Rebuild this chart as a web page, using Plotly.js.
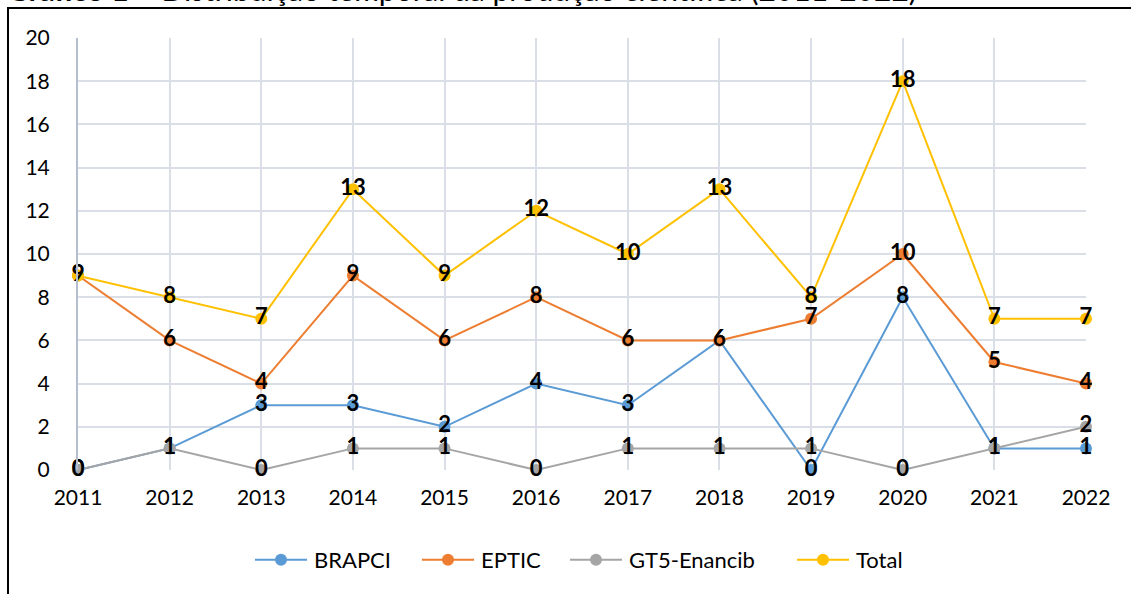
<!DOCTYPE html>
<html>
<head>
<meta charset="utf-8">
<script src="https://cdn.plot.ly/plotly-3.0.1.min.js"></script>
<style>
html,body{margin:0;padding:0;background:#fff;overflow:hidden;}
#chart{width:1131px;height:594px;}
#frame{position:absolute;left:7px;top:7px;width:1200px;height:700px;border:2px solid #000;pointer-events:none;}
</style>
</head>
<body>
<div id="chart"></div>
<div id="frame"></div>
<script>
const years = [2011,2012,2013,2014,2015,2016,2017,2018,2019,2020,2021,2022];
const brapci = [0,1,3,3,2,4,3,6,0,8,1,1];
const eptic = [9,6,4,9,6,8,6,6,7,10,5,4];
const gt5 = [0,1,0,1,1,0,1,1,1,0,1,2];
const total = [9,8,7,13,9,12,10,13,8,18,7,7];
const seriesNames = ['BRAPCI','EPTIC','GT5-Enancib','Total'];
const colors = ['#5B9BD5','#ED7D31','#A5A5A5','#FFC000'];
const titleText = '<b>Gráfico 1</b> – Distribuição temporal da produção científica (2011-2022)';

const F = 'Lato, "Open Sans", sans-serif';
const data = [brapci, eptic, gt5, total].map((vals, i) => ({
  x: years, y: vals, name: seriesNames[i], type: 'scatter', mode: 'lines+markers+text',
  line: {color: colors[i], width: 2},
  marker: {color: colors[i], size: 12},
  text: vals.map(String), textposition: 'middle center',
  textfont: {family: F, size: 22, color: '#000', weight: 'bold'},
  cliponaxis: false
}));

const layout = {
  width: 1131, height: 594,
  margin: {l: 78, r: 45, t: 38, b: 124},
  paper_bgcolor: '#fff', plot_bgcolor: '#fff',
  font: {family: F, size: 21, color: '#000'},
  showlegend: true,
  legend: {orientation: 'h', x: 0.5, xanchor: 'center', y: -0.208, yanchor: 'middle',
           font: {family: F, size: 22, color: '#000'}, traceorder: 'normal'},
  xaxis: {range: [2011, 2022], dtick: 1, tickmode: 'linear', showgrid: true, gridcolor: '#D9DEE7', gridwidth: 2,
          zeroline: false, showline: false, ticks: '', ticklabelstandoff: 13, fixedrange: true},
  yaxis: {range: [0, 20], dtick: 2, showgrid: true, gridcolor: '#D9DEE7', gridwidth: 2,
          zeroline: false, showline: true, linecolor: '#B4BECE', linewidth: 2, ticks: '', ticklabelstandoff: 22, fixedrange: true},
  annotations: [{
    text: titleText, xref: 'paper', yref: 'paper', x: -0.0724, y: 1.066, xanchor: 'left', yanchor: 'bottom',
    showarrow: false, font: {family: F, size: 30, color: '#000'}
  }]
};
// Excel-style legend entries: longer line samples, wider spacing (start x of each sample)
const legendStarts = [255, 422, 570, 797];
Plotly.newPlot('chart', data, layout, {displayModeBar: false, staticPlot: true}).then(gd => {
  gd.querySelectorAll('.legend .scrollbox').forEach(s => s.removeAttribute('clip-path'));
  gd.querySelectorAll('.legend .traces').forEach((t, i) => {
    const txt = t.querySelector('text.legendtext');
    const textX = parseFloat(txt.getAttribute('x')) || 40;
    const p = t.querySelector('.legendlines path');
    if (p) p.setAttribute('d', 'M' + (textX - 59) + ',0h52');
    t.querySelectorAll('.legendpoints path.scatterpts').forEach(pp => pp.setAttribute('transform', 'translate(' + (textX - 33) + ',0)'));
    const m = /translate\(\s*([-\d.]+)[ ,]+([-\d.]+)/.exec(t.getAttribute('transform') || 'translate(0,0)');
    const tx = m ? parseFloat(m[1]) : 0, ty = m ? parseFloat(m[2]) : 0;
    const left = p.getBoundingClientRect().left;
    t.setAttribute('transform', 'translate(' + (tx + legendStarts[i] - left) + ',' + ty + ')');
  });
});
</script>
</body>
</html>
